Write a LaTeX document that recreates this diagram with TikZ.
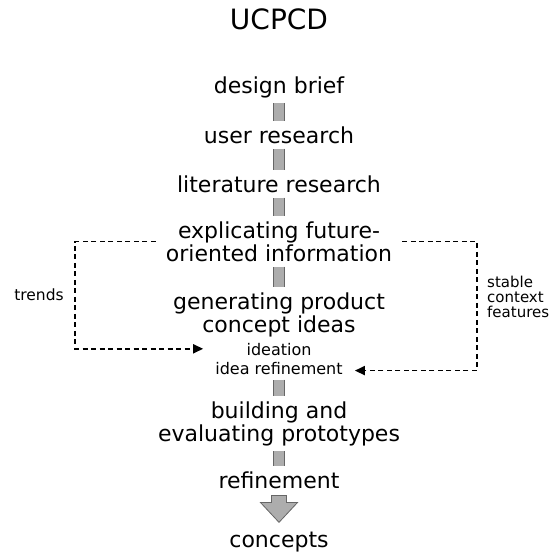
\documentclass[tikz,border=0pt]{standalone}
\usepackage{fontspec}
\setmainfont{DejaVu Sans}
\usetikzlibrary{arrows.meta,calc}
\begin{document}
\begin{tikzpicture}[x=1pt,y=-1pt,
  stage/.style={inner sep=0pt, align=center, font=\fontsize{22}{23}\selectfont},
  substage/.style={inner sep=0pt, align=center, font=\fontsize{16}{19}\selectfont},
  sidelabel/.style={inner sep=0pt, font=\fontsize{15.5}{15}\selectfont},
  bar/.style={draw=black!60, line width=1pt, double=black!32, double distance=10pt,
    shorten <=5pt, shorten >=5pt},
  flow/.style={line width=1.8pt, dash pattern=on 5pt off 3.5pt,
    -{Triangle[length=10pt,width=9pt]}, shorten <=10pt, shorten >=12pt},
  bigarrow/.style={draw=black!60, fill=black!32, line width=0.8pt, line join=miter}
]
\useasboundingbox (0,0) rectangle (560,552);

% process stages, top to bottom
\node[stage, font=\fontsize{28}{30}\selectfont, anchor=base] (title) at (279,29) {UCPCD};
\node[stage, anchor=base] (brief) at (279,93) {design brief};
\node[stage, anchor=base] (user) at (279,143) {user research};
\node[stage, anchor=base] (lit) at (279,192) {literature research};
\node[stage, anchor=north] (expl) at (279,221.3) {explicating future-\\oriented information};
\node[stage, anchor=north] (gen) at (279,292.3) {generating product\\concept ideas};
\node[substage, anchor=north] (ideas) at (279,342.8) {ideation\\idea refinement};
\node[stage, anchor=north] (build) at (279,401.3) {building and\\evaluating prototypes};
\node[stage, anchor=base] (ref) at (279,488) {refinement};
\node[stage, anchor=base] (con) at (279,547) {concepts};

% side labels
\node[sidelabel, anchor=base] (trends) at (39,300) {trends};
\node[sidelabel, anchor=north west, align=left, font=\fontsize{15}{15}\selectfont] (stable) at (487,275.6) {stable\\context\\features};

% grey links between stages
\draw[bar] (brief) -- (user);
\draw[bar] (user) -- (lit);
\draw[bar] (lit) -- (expl);
\draw[bar] (expl) -- (gen);
\draw[bar] (ideas) -- (build);
\draw[bar] (build) -- (ref);

% final block arrow
\draw[bigarrow] ($(ref.south)+(-7.5,7)$) -- ($(ref.south)+(7.5,7)$)
  -- ($(ref.south)+(7.5,14)$) -- ($(ref.south)+(18.5,14)$)
  -- ($(con.north)+(0,-9)$)
  -- ($(ref.south)+(-18.5,14)$) -- ($(ref.south)+(-7.5,14)$) -- cycle;

% dashed feedback paths
\coordinate (lcol) at (75,0);
\coordinate (rcol) at (477,0);
\coordinate (lhit) at ($(ideas.north west)+(0,6)$);
\coordinate (rhit) at ($(ideas.south east)+(0,-4)$);
\draw[flow] (expl.west) -- (expl.west -| lcol) -- (lcol |- lhit) -- (lhit);
\draw[flow] (expl.east) -- (expl.east -| rcol) -- (rcol |- rhit) -- (rhit);
\end{tikzpicture}
\end{document}
